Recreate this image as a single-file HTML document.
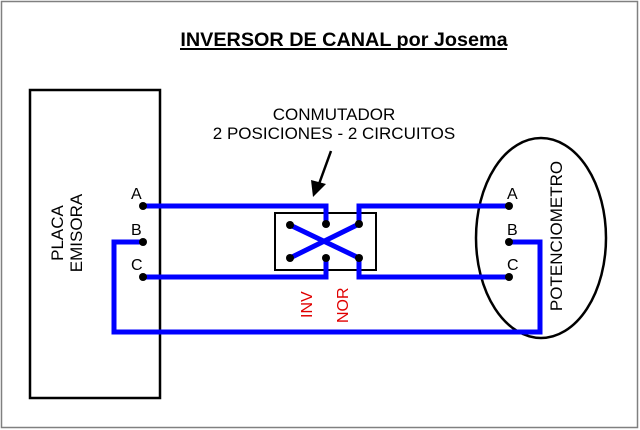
<!DOCTYPE html>
<html><head><style>
html,body{margin:0;padding:0;background:#fff;width:640px;height:430px;overflow:hidden}
text{font-family:"Liberation Sans",sans-serif}
</style></head><body>
<svg width="640" height="430" viewBox="0 0 640 430" xmlns="http://www.w3.org/2000/svg">
<rect x="1.5" y="1.5" width="636" height="426" fill="#fff" stroke="#808080" stroke-width="1.5"/>
<text x="344" y="46" font-size="19.8" font-weight="bold" text-anchor="middle" fill="#000">INVERSOR DE CANAL por Josema</text>
<line x1="180" y1="49" x2="507" y2="49" stroke="#000" stroke-width="2"/>
<text x="334" y="120" font-size="17" text-anchor="middle">CONMUTADOR</text>
<text x="334" y="139" font-size="17" text-anchor="middle">2 POSICIONES - 2 CIRCUITOS</text>
<line x1="331" y1="151" x2="319" y2="184" stroke="#000" stroke-width="2.5"/>
<polygon points="313,197 311,180 326,184" fill="#000"/>
<rect x="30" y="90" width="130" height="308" fill="none" stroke="#000" stroke-width="2.5"/>
<text transform="translate(63,233) rotate(-90)" font-size="17" text-anchor="middle">PLACA</text>
<text transform="translate(82,233) rotate(-90)" font-size="17" text-anchor="middle">EMISORA</text>
<ellipse cx="541" cy="238" rx="65" ry="100" fill="none" stroke="#000" stroke-width="2.5"/>
<text transform="translate(562,236) rotate(-90)" font-size="17" text-anchor="middle">POTENCIOMETRO</text>
<rect x="275" y="213" width="101" height="57" fill="none" stroke="#000" stroke-width="2"/>
<g fill="none" stroke="#0000ff" stroke-width="5">
<polyline points="143,206 326,206 326,224"/>
<polyline points="359,224 359,206 509,206"/>
<polyline points="143,242 114,242 114,332 540,332 540,242 509,242"/>
<polyline points="143,277 326,277 326,258"/>
<polyline points="359,258 359,277 509,277"/>
<line x1="290" y1="225" x2="359" y2="258"/>
<line x1="290" y1="258" x2="359" y2="224"/>
</g>
<g fill="#000">
<circle cx="143" cy="206" r="4"/><circle cx="143" cy="242" r="4"/><circle cx="143" cy="277" r="4"/>
<circle cx="509" cy="206" r="4"/><circle cx="509" cy="242" r="4"/><circle cx="509" cy="277" r="4"/>
<circle cx="290" cy="225" r="4"/><circle cx="326" cy="224" r="4"/><circle cx="359" cy="224" r="4"/>
<circle cx="290" cy="258" r="4"/><circle cx="326" cy="258" r="4"/><circle cx="359" cy="258" r="4"/>
</g>
<g font-size="16">
<text x="131" y="199">A</text><text x="131" y="235">B</text><text x="131" y="270">C</text>
<text x="507" y="199">A</text><text x="507" y="235">B</text><text x="507" y="270">C</text>
</g>
<text transform="translate(312,318) rotate(-90)" font-size="16" fill="#e00000">INV</text>
<text transform="translate(348,323) rotate(-90)" font-size="16" fill="#e00000">NOR</text>
</svg>
</body></html>
